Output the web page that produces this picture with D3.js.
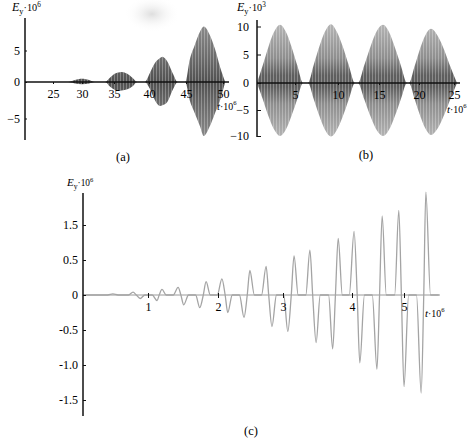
<!DOCTYPE html>
<html>
<head>
<meta charset="utf-8">
<script src="https://cdn.jsdelivr.net/npm/d3@7"></script>
<style>
  body { margin: 0; background: #fff; }
  svg { display: block; }
</style>
</head>
<body>
<div id="chart"></div>
<script>
// panel (a): envelope of the fast oscillation, E_y·10^6 vs t·10^6
const tA = [20, 27.6, 28.8, 30, 31.1, 32.0, 33.6, 34.4, 35.1, 35.6, 36.1, 36.9, 37.7, 38.3,
            39.4, 40.1, 40.8, 41.5, 41.8, 42.5, 43.2, 43.9, 44.9, 45.5, 46.2, 46.9, 47.4,
            48.2, 48.9, 49.6, 50.3];
const upperA = [0, 0, 0.3, 0.5, 0.3, 0, 0, 0.7, 1.3, 1.5, 1.6, 1.3, 0.6, 0,
                0, 1.4, 3.0, 3.8, 4.0, 3.2, 1.4, 0, 0, 3.5, 5.9, 8.0, 8.8, 7.5, 5.3, 2.4, 0];
const lowerA = [0, 0, -0.2, -0.3, -0.2, 0, 0, -0.65, -1.05, -1.2, -1.15, -1.0, -0.55, 0,
                0, -0.9, -2.5, -3.3, -3.2, -2.7, -1.1, 0, 0, -2.5, -4.3, -6.1, -7.4, -6.1, -4.3, -2.5, 0];
const xTicksA = [25, 30, 35, 40, 45, 50];
const yTicksA = [5, 0, -5];

// panel (b): E_y·10^3
const tB = [0, 0.76, 1.51, 2.27, 3.03, 3.78, 4.54, 5.26, 5.93,
            6.51, 7.18, 7.85, 8.52, 9.19, 9.88, 10.61, 11.34, 12.07,
            12.44, 13.20, 13.96, 14.73, 15.5, 16.25, 17.0, 17.75, 18.5,
            18.75, 19.44, 20.14, 20.93, 21.71, 22.64, 23.57, 24.5, 25.43];
const upperB = [0, 3.1, 6.4, 9.1, 10.3, 9.1, 6.4, 3.1, 0,
                0, 3.2, 6.5, 9.2, 10.4, 9.0, 6.3, 3.0, 0,
                0, 3.1, 6.4, 9.2, 10.3, 9.0, 6.2, 3.0, 0,
                0, 2.9, 6.0, 8.5, 9.6, 8.4, 5.9, 2.8, 0];
const lowerB = [0, -3.0, -6.2, -8.8, -10.0, -8.8, -6.1, -3.0, 0,
                0, -3.0, -6.2, -8.9, -10.1, -8.8, -6.1, -2.9, 0,
                0, -3.0, -6.2, -8.9, -10.0, -8.8, -6.1, -2.9, 0,
                0, -2.9, -6.0, -8.6, -9.8, -8.6, -6.0, -2.9, 0];
const xTicksB = [5, 10, 15, 20, 25];
const yTicksB = [10, 5, 0, -5, -10];

// panel (c): E_y·10^6, single pulses
const tC = [0, 0.38, 0.46, 0.54,
            0.70, 0.77, 0.82, 0.88, 0.95,
            1.06, 1.13, 1.16, 1.20, 1.26,
            1.36, 1.43, 1.47, 1.51, 1.58,
            1.68, 1.74, 1.79, 1.83, 1.89,
            1.99, 2.06, 2.11, 2.15, 2.22,
            2.33, 2.40, 2.45, 2.49, 2.56,
            2.67, 2.74, 2.78, 2.83, 2.90,
            3.01, 3.07, 3.12, 3.16, 3.22,
            3.33, 3.39, 3.43, 3.48, 3.54,
            3.66, 3.72, 3.76, 3.80, 3.86,
            3.96, 4.04, 4.10, 4.15, 4.24,
            4.39, 4.48, 4.53, 4.58, 4.66,
            4.82, 4.90, 4.95, 5.00, 5.09,
            5.24, 5.33, 5.38, 5.42, 5.51,
            5.67];
const eyC = [0, 0, 0.015, 0,
             0, 0.04, 0, -0.05, 0,
             0, -0.08, 0, 0.08, 0,
             0, 0.11, 0, -0.14, 0,
             0, -0.18, 0, 0.19, 0,
             0, 0.23, 0, -0.25, 0,
             0, -0.32, 0, 0.35, 0,
             0, 0.41, 0, -0.45, 0,
             0, -0.52, 0, 0.56, 0,
             0, 0.64, 0, -0.68, 0,
             0, -0.77, 0, 0.81, 0,
             0, 0.91, 0, -0.97, 0,
             0, -1.06, 0, 1.13, 0,
             0, 1.21, 0, -1.31, 0,
             0, -1.40, 0, 1.47, 0,
             0];
const xTicksC = [1, 2, 3, 4, 5];
const yTicksC = [1.0, 0.5, 0, -0.5, -1.0, -1.5];
const yTickLabelsC = ["1.5", "0.5", "0", "-0.5", "-1.0", "-1.5"];

const serif = "'Liberation Serif', 'Times New Roman', serif";
const ink = "#000";

const svg = d3.select("#chart")
    .append("svg")
    .attr("width", 474)
    .attr("height", 440)
    .style("font-family", serif);

const defs = svg.append("defs");

// stripes give the dense oscillation its texture
const stripes = defs.append("pattern")
    .attr("id", "stripes")
    .attr("patternUnits", "userSpaceOnUse")
    .attr("width", 3)
    .attr("height", 20);
stripes.append("rect")
    .attr("width", 1)
    .attr("height", 20)
    .attr("fill", "#fff")
    .attr("opacity", 0.28);

function grayGradient(id, y1, y2, stops) {
    const g = defs.append("linearGradient")
        .attr("id", id)
        .attr("gradientUnits", "userSpaceOnUse")
        .attr("x1", 0).attr("x2", 0)
        .attr("y1", y1).attr("y2", y2);
    stops.forEach(s => g.append("stop").attr("offset", s[0]).attr("stop-color", s[1]));
}

grayGradient("gradA", 26, 138, [[0, "#8a8a8a"], [0.3, "#6a6a6a"], [0.5, "#505050"], [0.7, "#6a6a6a"], [1, "#8a8a8a"]]);
grayGradient("gradB", 24, 138, [[0, "#b4b4b4"], [0.3, "#8e8e8e"], [0.45, "#5e5e5e"], [0.55, "#5e5e5e"], [0.7, "#8e8e8e"], [1, "#b4b4b4"]]);

// smudge from the scan, top of panel (a)
const smudge = defs.append("radialGradient").attr("id", "smudge");
smudge.append("stop").attr("offset", 0).attr("stop-color", "#dedede");
smudge.append("stop").attr("offset", 1).attr("stop-color", "#fff").attr("stop-opacity", 0);
svg.append("ellipse")
    .attr("cx", 152).attr("cy", 14)
    .attr("rx", 28).attr("ry", 18)
    .attr("fill", "url(#smudge)");

function eyLabel(x, y, power, size) {
    const t = svg.append("text")
        .attr("x", x).attr("y", y)
        .attr("font-family", serif)
        .attr("font-size", size)
        .attr("fill", ink);
    t.append("tspan").attr("font-style", "italic").text("E");
    t.append("tspan").attr("font-size", size * 0.7).attr("dy", 3).text("y");
    t.append("tspan").attr("font-size", size * 0.85).attr("dy", -3).text("·10");
    t.append("tspan").attr("font-size", size * 0.6).attr("dy", -4).text(power);
}

function tLabel(x, y, size) {
    const t = svg.append("text")
        .attr("x", x).attr("y", y)
        .attr("font-family", serif)
        .attr("font-size", size)
        .attr("fill", ink);
    t.append("tspan").attr("font-style", "italic").text("t");
    t.append("tspan").attr("font-size", size * 0.9).text("·10");
    t.append("tspan").attr("font-size", size * 0.6).attr("dy", -5).text("6");
}

function styleAxis(g, size) {
    g.attr("font-family", serif);
    g.select(".domain").remove();
    g.selectAll("text")
        .attr("font-family", serif)
        .attr("font-size", size)
        .attr("fill", ink);
    g.selectAll("line").attr("stroke", "#111");
}

function panelLabel(x, y, txt) {
    svg.append("text")
        .attr("x", x).attr("y", y)
        .attr("text-anchor", "middle")
        .attr("font-family", serif)
        .attr("font-size", 12.5)
        .attr("fill", ink)
        .text(txt);
}

// 包络面板 (a), (b)
function drawEnvelopePanel(opt) {
    const x = d3.scaleLinear().domain(opt.xDomain).range(opt.xRange);
    const y = d3.scaleLinear().domain(opt.yDomain).range(opt.yRange);
    const y0 = y(0);

    const data = opt.t.map((t, i) => ({ t: t, hi: opt.upper[i], lo: opt.lower[i] }));
    const area = d3.area()
        .x(d => x(d.t))
        .y0(d => y(d.lo))
        .y1(d => y(d.hi))
        .curve(d3.curveMonotoneX);

    svg.append("path")
        .datum(data)
        .attr("d", area)
        .attr("fill", opt.fill);
    svg.append("path")
        .datum(data)
        .attr("d", area)
        .attr("fill", "url(#stripes)");

    const gx = svg.append("g")
        .attr("transform", `translate(0,${y0})`)
        .call(d3.axisBottom(x).tickValues(opt.xTicks).tickSize(2).tickSizeOuter(0).tickPadding(5)
            .tickFormat(d3.format("d")));
    styleAxis(gx, 12);

    const gy = svg.append("g")
        .attr("transform", `translate(${opt.xRange[0]},0)`)
        .call(d3.axisLeft(y).tickValues(opt.yTicks).tickSize(-opt.yTickLen).tickSizeOuter(0).tickPadding(opt.yPad)
            .tickFormat(d3.format("d")));
    styleAxis(gy, 12);

    // axes lines
    svg.append("line")
        .attr("x1", opt.xRange[0]).attr("x2", opt.xEnd)
        .attr("y1", y0).attr("y2", y0)
        .attr("stroke", "#111").attr("stroke-width", 1.4);
    svg.append("line")
        .attr("x1", opt.xRange[0]).attr("x2", opt.xRange[0])
        .attr("y1", opt.yTop).attr("y2", opt.yBottom)
        .attr("stroke", "#111").attr("stroke-width", 1.5);
}

drawEnvelopePanel({
    t: tA, upper: upperA, lower: lowerA,
    xDomain: [20, 25, 30, 35, 40, 45, 50],
    xRange: [25, 53, 82, 114, 149, 186, 223],
    yDomain: [-5, 0, 5],
    yRange: [118.5, 82, 50.5],
    xTicks: xTicksA, yTicks: yTicksA,
    yTickLen: 2, yPad: 5,
    xEnd: 229, yTop: 18, yBottom: 140,
    fill: "url(#gradA)"
});

drawEnvelopePanel({
    t: tB, upper: upperB, lower: lowerB,
    xDomain: [0, 5, 10, 15, 20, 25],
    xRange: [257, 295, 338, 379, 419, 454],
    yDomain: [-10, -5, 0, 5, 10],
    yRange: [136, 110, 83, 54.5, 26.5],
    xTicks: xTicksB, yTicks: yTicksB,
    yTickLen: 4, yPad: 8,
    xEnd: 460, yTop: 20, yBottom: 137,
    fill: "url(#gradB)"
});

eyLabel(12, 11, "6", 12);
eyLabel(237, 11, "3", 12);
tLabel(217, 110, 11);
tLabel(447, 113, 11);
panelLabel(123, 161, "(a)");
panelLabel(366, 159, "(b)");

// 脉冲面板 (c)
function drawPulsePanel() {
    const x = d3.scaleLinear()
        .domain([0, 1, 2, 3, 4, 5])
        .range([83, 148, 218, 283, 352, 404]);
    const y = d3.scaleLinear().domain([0, 1]).range([295, 225]);

    svg.append("line")
        .attr("x1", 83).attr("x2", 440)
        .attr("y1", y(0)).attr("y2", y(0))
        .attr("stroke", "#9a9a9a").attr("stroke-width", 1);

    const line = d3.line()
        .x((d, i) => x(tC[i]))
        .y(d => y(d))
        .curve(d3.curveMonotoneX);

    svg.append("path")
        .datum(eyC)
        .attr("d", line)
        .attr("fill", "none")
        .attr("stroke", "#a4a4a4")
        .attr("stroke-width", 1.3);

    const gx = svg.append("g")
        .attr("transform", `translate(0,${y(0)})`)
        .call(d3.axisBottom(x).tickValues(xTicksC).tickSize(3).tickSizeOuter(0).tickPadding(4)
            .tickFormat(d3.format("d")));
    styleAxis(gx, 12);
    gx.selectAll("line").attr("y1", -2);

    const gy = svg.append("g")
        .attr("transform", "translate(83,0)")
        .call(d3.axisLeft(y).tickValues(yTicksC).tickSize(-3).tickSizeOuter(0).tickPadding(5)
            .tickFormat((d, i) => yTickLabelsC[i]));
    styleAxis(gy, 12);

    svg.append("line")
        .attr("x1", 83).attr("x2", 83)
        .attr("y1", 193).attr("y2", 416)
        .attr("stroke", "#111").attr("stroke-width", 1.5);
}

drawPulsePanel();

eyLabel(67, 186, "6", 11);
tLabel(425, 317, 11);
panelLabel(251, 435, "(c)");
</script>
</body>
</html>
